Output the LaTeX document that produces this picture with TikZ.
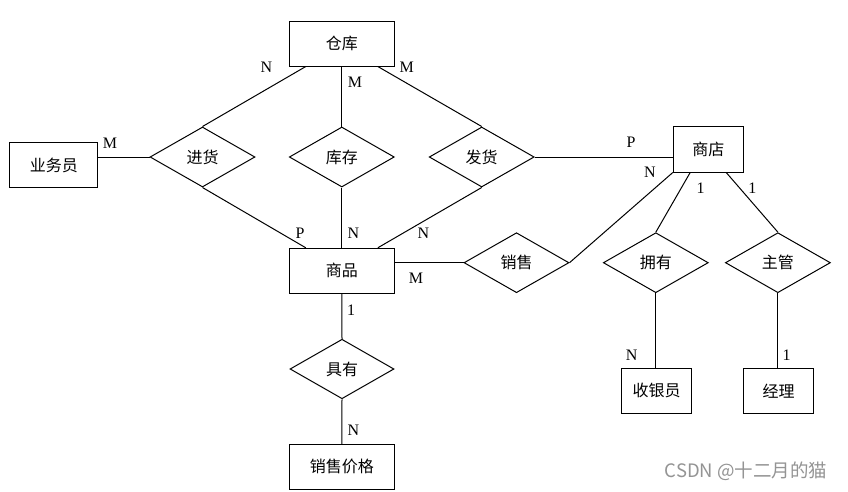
\documentclass[tikz,border=0pt]{standalone}
\usepackage{fontspec}
\setmainfont{Liberation Serif}
\newfontfamily\cjk{Noto Sans CJK SC}
\usetikzlibrary{shapes.geometric}
\begin{document}
\begin{tikzpicture}[x=1pt,y=-1pt,
  every node/.style={font=\cjk\fontsize{16}{16}\selectfont},
  ent/.style={draw, line width=1pt, rectangle, inner sep=0pt, minimum width=105pt, minimum height=45pt},
  entsmall/.style={ent, minimum width=70pt},
  rel/.style={draw, line width=1pt, diamond, inner sep=0pt, minimum width=105pt, minimum height=60pt},
  card/.style={inner sep=0pt, font=\fontsize{16}{16}\selectfont},
  conn/.style={line width=1pt},
  wm/.style={inner sep=0pt, text=black!42, font=\cjk\fontsize{18.5}{18.5}\selectfont}]
\useasboundingbox (0,0) rectangle (848,491);
\fill[white] (0,0) rectangle (848,491);
% entities
\node[ent] (ck) at (341.8,43.5) {仓库};
\node[ent, minimum width=87.7pt] (ywy) at (53.8,165) {业务员};
\node[entsmall, minimum height=46pt] (sd) at (708.3,149) {商店};
\node[ent] (sp) at (341.8,270.8) {商品};
\node[entsmall] (syy) at (656.7,390.8) {收银员};
\node[entsmall] (jl) at (778.7,390.8) {经理};
\node[ent] (xsjg) at (341.8,466.8) {销售价格};
% relationships
\node[rel] (jh) at (202.5,157) {进货};
\node[rel] (kc) at (341.8,157) {库存};
\node[rel] (fh) at (481.7,157) {发货};
\node[rel] (xs) at (516.5,262.7) {销售};
\node[rel] (yy) at (655.8,262.7) {拥有};
\node[rel] (zg) at (777.9,262.7) {主管};
\node[rel, minimum width=104pt, minimum height=59.5pt] (jy) at (342,369) {具有};
% connectors
\draw[conn] ([xshift=17pt]ck.south west) -- (jh.north);
\draw[conn] (ck.south) -- (kc.north);
\draw[conn] ([xshift=-17pt]ck.south east) -- (fh.north);
\draw[conn] (jh.west) -- (jh.west -| ywy.east);
\draw[conn] (jh.south) -- ([xshift=17pt]sp.north west);
\draw[conn] (kc.south) -- (sp.north);
\draw[conn] (fh.south) -- ([xshift=-17pt]sp.north east);
\draw[conn] (fh.east) -- (fh.east -| sd.west);
\draw[conn] (xs.west) -- (xs.west -| sp.east);
\draw[conn] (xs.east) -- (sd.south west);
\draw[conn] ([xshift=17.4pt]sd.south west) -- (yy.north);
\draw[conn] ([xshift=-17.6pt]sd.south east) -- (zg.north);
\draw[conn] (yy.south) -- (yy.south |- syy.north);
\draw[conn] (zg.south) -- (zg.south |- jl.north);
\draw[conn] (sp.south) -- (jy.north);
\draw[conn] (jy.south) -- (xsjg.north);
% cardinalities
\node[card] (c1) at (266.3,67.7) {N};
\node[card] (c2) at (355,82.7) {M};
\node[card] (c3) at (406.7,67.7) {M};
\node[card] (c4) at (110,143.3) {M};
\node[card] (c5) at (300,233) {P};
\node[card] (c6) at (353.3,233) {N};
\node[card] (c7) at (423.3,233) {N};
\node[card] (c8) at (416,278) {M};
\node[card] (c9) at (631,142.3) {P};
\node[card] (c10) at (650,172.3) {N};
\node[card] (c11) at (700.7,188.3) {1};
\node[card] (c12) at (752.3,188.3) {1};
\node[card] (c13) at (351,310) {1};
\node[card] (c14) at (353.3,430) {N};
\node[card] (c15) at (631.7,355) {N};
\node[card] (c16) at (786.7,355) {1};
% watermark
\node[wm] (wmk) at (746,471.7) {CSDN @十二月的猫};
\end{tikzpicture}
\end{document}
